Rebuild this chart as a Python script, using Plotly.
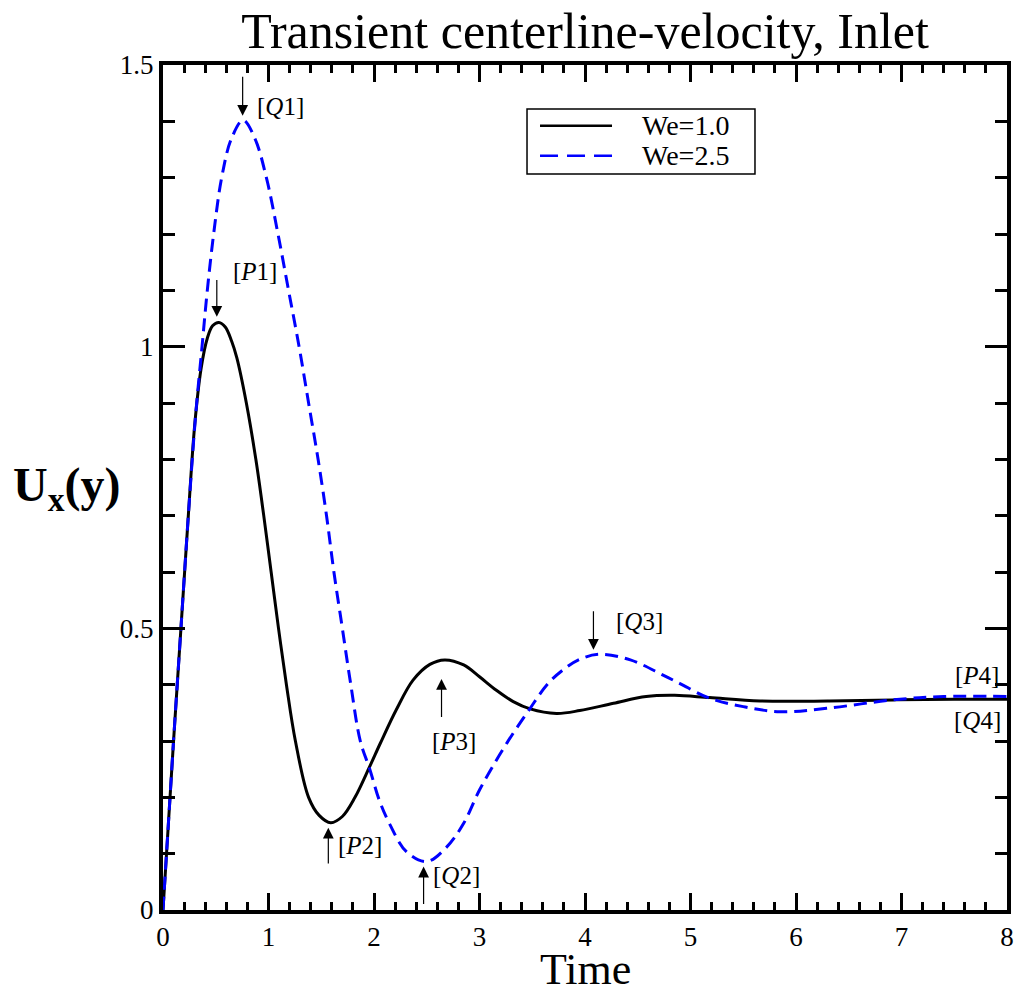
import plotly.graph_objects as go

# ---------------- data ----------------
t_we10 = [0, 0.05, 0.10, 0.17, 0.24, 0.30, 0.36, 0.42, 0.47, 0.53, 0.59, 0.65, 0.70,
          0.79, 0.88, 0.955, 1.025, 1.095, 1.17, 1.255, 1.38, 1.48, 1.59, 1.70, 1.82,
          1.96, 2.06, 2.21, 2.37, 2.53, 2.67, 2.85, 3.00, 3.16, 3.32, 3.48, 3.73, 3.95,
          4.27, 4.58, 4.85, 5.18, 5.66, 6.30, 6.92, 7.50, 8.00]
u_we10 = [0, 0.15, 0.30, 0.50, 0.70, 0.86, 0.96, 1.015, 1.037, 1.043, 1.035, 1.01, 0.98,
          0.90, 0.80, 0.70, 0.60, 0.50, 0.40, 0.30, 0.20, 0.168, 0.155, 0.166, 0.20,
          0.255, 0.296, 0.355, 0.408, 0.436, 0.444, 0.435, 0.414, 0.390, 0.370, 0.357,
          0.349, 0.354, 0.367, 0.379, 0.381, 0.377, 0.371, 0.371, 0.373, 0.374, 0.374]

t_we25 = [0, 0.05, 0.10, 0.17, 0.24, 0.31, 0.37, 0.42, 0.48, 0.556, 0.65, 0.76, 0.87,
          0.98, 1.09, 1.19, 1.29, 1.38, 1.47, 1.55, 1.62, 1.70, 1.78, 1.87, 1.96, 2.05,
          2.15, 2.31, 2.50, 2.69, 2.85, 3.00, 3.16, 3.32, 3.48, 3.64, 3.79, 3.95, 4.14,
          4.43, 4.74, 4.90, 5.18, 5.50, 5.85, 6.29, 6.92, 7.40, 8.00]
u_we25 = [0, 0.15, 0.30, 0.50, 0.70, 0.88, 1.00, 1.10, 1.20, 1.30, 1.37, 1.402, 1.37,
          1.30, 1.20, 1.10, 1.00, 0.90, 0.80, 0.70, 0.60, 0.50, 0.40, 0.30, 0.25, 0.195,
          0.152, 0.103, 0.086, 0.112, 0.154, 0.213, 0.266, 0.314, 0.358, 0.400, 0.426,
          0.445, 0.454, 0.444, 0.417, 0.402, 0.376, 0.361, 0.352, 0.358, 0.373, 0.379, 0.379]

series_names = ["We=1.0", "We=2.5"]
series_colors = ["black", "#0000ff"]
series_dash = ["solid", "13px,7px"]

# point labels: text, label position, arrow tip, arrow tail
label_texts = ["[<i>P</i>1]", "[<i>Q</i>1]", "[<i>P</i>2]", "[<i>Q</i>2]",
               "[<i>P</i>3]", "[<i>Q</i>3]", "[<i>P</i>4]", "[<i>Q</i>4]"]
label_t = [0.87, 1.11, 1.87, 2.78, 2.76, 4.52, 7.72, 7.72]
label_u = [1.133, 1.426, 0.115, 0.062, 0.299, 0.512, 0.417, 0.336]
arrow_tip_t = [0.51, 0.755, 1.567, 2.47, 2.64, 4.08]
arrow_tip_u = [1.053, 1.41, 0.146, 0.077, 0.41, 0.462]
arrow_tail_u = [1.121, 1.482, 0.08, 0.008, 0.34, 0.533]

x_ticks = [0, 1, 2, 3, 4, 5, 6, 7, 8]
y_ticks = [0, 0.5, 1, 1.5]

SERIF = "Liberation Serif"
BLACK = "black"

fig = go.Figure()
for tt, uu, nm, col, ds in zip([t_we10, t_we25], [u_we10, u_we25], series_names,
                              series_colors, series_dash):
    fig.add_trace(go.Scatter(x=tt, y=uu, mode="lines", name=nm, showlegend=False,
                             line=dict(color=col, width=3, shape="spline", dash=ds)))

annotations = []
for txt, lt, lu in zip(label_texts, label_t, label_u):
    annotations.append(dict(x=lt, y=lu, xref="x", yref="y", text=txt, showarrow=False,
                            font=dict(family=SERIF, size=25, color=BLACK),
                            xanchor="center", yanchor="middle"))
for tt, tu, au in zip(arrow_tip_t, arrow_tip_u, arrow_tail_u):
    annotations.append(dict(x=tt, y=tu, xref="x", yref="y", ax=tt, ay=au,
                            axref="x", ayref="y", text="", showarrow=True,
                            arrowhead=2, arrowsize=1.8, arrowwidth=1.2,
                            arrowcolor=BLACK, standoff=0, startstandoff=0))
# horizontal y-axis title
annotations.append(dict(x=-0.114, y=0.5, xref="paper", yref="paper",
                        text="<b>U<sub>x</sub>(y)</b>", showarrow=False,
                        font=dict(family=SERIF, size=48, color=BLACK),
                        xanchor="center", yanchor="middle"))
# x-axis title
annotations.append(dict(x=0.5, y=-0.1012, xref="paper", yref="paper",
                        text="Time", showarrow=False,
                        font=dict(family=SERIF, size=44, color=BLACK),
                        xanchor="center", yanchor="bottom"))

# legend box (drawn in paper coordinates)
leg_x0, leg_x1, leg_y0, leg_y1 = 0.4313, 0.7014, 0.8710, 0.9480
leg_line_x0, leg_line_x1, leg_text_x = 0.4467, 0.532, 0.5652
leg_rows_y = [0.9280, 0.8925]
shapes = [dict(type="rect", xref="paper", yref="paper", x0=leg_x0, x1=leg_x1,
               y0=leg_y0, y1=leg_y1, line=dict(color=BLACK, width=1.5),
               fillcolor="white", layer="above")]
for ry, nm, col, ds in zip(leg_rows_y, series_names, series_colors, series_dash):
    shapes.append(dict(type="line", xref="paper", yref="paper", x0=leg_line_x0,
                       x1=leg_line_x1, y0=ry, y1=ry, layer="above",
                       line=dict(color=col, width=2.5,
                                 dash="solid" if ds == "solid" else "18px,9px")))
    annotations.append(dict(x=leg_text_x, y=ry, xref="paper", yref="paper", text=nm,
                            showarrow=False, xanchor="left", yanchor="middle",
                            font=dict(family=SERIF, size=28, color=BLACK)))

axis_common = dict(showline=True, linecolor=BLACK, linewidth=4, mirror="ticks",
                   ticks="inside", tickwidth=3, tickcolor=BLACK,
                   showgrid=False, zeroline=False,
                   tickfont=dict(family=SERIF, size=27, color=BLACK))

fig.update_layout(
    width=1021, height=997,
    margin=dict(l=163, r=14, t=65, b=87),
    paper_bgcolor="white", plot_bgcolor="white",
    font=dict(family=SERIF, color=BLACK),
    title=dict(text="Transient centerline-velocity, Inlet",
               font=dict(family=SERIF, size=50, color=BLACK),
               x=0.5, xref="paper", xanchor="center",
               y=1 - 30 / 997, yref="container", yanchor="middle"),
    xaxis=dict(range=[0, 8], tickvals=x_ticks, automargin=False, ticklen=17,
               minor=dict(dtick=0.2, ticks="inside", ticklen=8, tickwidth=3,
                          tickcolor=BLACK, showgrid=False),
               **axis_common),
    yaxis=dict(range=[0, 1.5], tickvals=y_ticks, automargin=False, ticklen=22,
               minor=dict(dtick=0.1, ticks="inside", ticklen=12, tickwidth=3,
                          tickcolor=BLACK, showgrid=False),
               **axis_common),
    shapes=shapes,
    annotations=annotations,
    showlegend=False,
)

fig.write_html("out.html")
